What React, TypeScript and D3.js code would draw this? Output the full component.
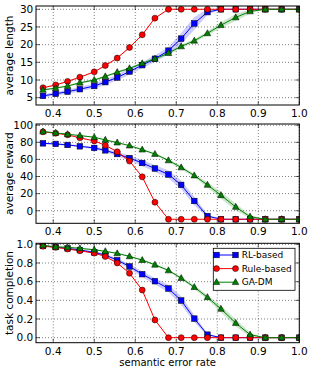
import React from "react";
import * as d3 from "d3";

const errorRate = [0.375, 0.406, 0.435, 0.465, 0.5, 0.527, 0.556, 0.586, 0.617, 0.648, 0.681, 0.712, 0.744, 0.776, 0.809, 0.845, 0.88, 0.917, 0.957, 1.0];
const xTicks = [0.4, 0.5, 0.6, 0.7, 0.8, 0.9, 1.0];

const seriesNames = ["RL-based", "Rule-based", "GA-DM"];

const lenRL = [5.5, 6.1, 6.7, 7.4, 8.3, 9.4, 10.7, 12.4, 14.2, 16.0, 18.3, 21.7, 26.0, 29.2, 30, 30, 30, 30, 30, 30];
const lenRule = [7.8, 8.6, 9.6, 10.8, 12.3, 14.1, 16.2, 19.2, 22.8, 27.5, 30, 30, 30, 30, 30, 30, 30, 30, 30, 30];
const lenGA = [7.2, 7.7, 8.3, 9.2, 10.0, 11.0, 12.2, 13.3, 14.7, 16.0, 17.6, 19.5, 21.1, 23.2, 25.5, 27.7, 29.4, 30, 30, 30];
const lenRLErr = [0.5, 0.5, 0.6, 0.6, 0.7, 0.8, 0.8, 0.9, 0.9, 0.9, 1.0, 1.6, 1.8, 0.8, 0, 0, 0, 0, 0, 0];
const lenRuleErr = [0.2, 0.2, 0.2, 0.2, 0.2, 0.2, 0.2, 0.2, 0.2, 0.2, 0, 0, 0, 0, 0, 0, 0, 0, 0, 0];
const lenGAErr = [0.2, 0.2, 0.2, 0.3, 0.3, 0.3, 0.3, 0.3, 0.3, 0.4, 0.4, 0.5, 0.5, 0.6, 0.8, 1.0, 0.6, 0, 0, 0];

const rewRL = [78.8, 78.1, 76.9, 75.3, 73.4, 70.6, 66.3, 61.6, 55.8, 49.4, 42.4, 30.2, 11.4, -6.2, -10, -10, -10, -10, -10, -10];
const rewRule = [92.2, 90.6, 88.7, 85.2, 81.6, 76.5, 69.0, 58.1, 39.6, 9.9, -10, -10, -10, -10, -10, -10, -10, -10, -10, -10];
const rewGA = [92.6, 91.0, 89.4, 87.9, 85.9, 82.8, 79.6, 76.1, 71.4, 66.3, 58.8, 50.6, 41.2, 30.2, 18.1, 4.4, -7.0, -10, -10, -10];
const rewRLErr = [1, 1, 1, 1.2, 1.5, 2, 2.5, 3, 3.5, 4, 4.5, 5, 5, 2, 0, 0, 0, 0, 0, 0];
const rewRuleErr = [0.5, 0.5, 0.5, 0.5, 0.5, 0.5, 0.5, 0.5, 0.5, 0.5, 0, 0, 0, 0, 0, 0, 0, 0, 0, 0];
const rewGAErr = [0.5, 0.5, 0.5, 0.5, 0.6, 0.6, 0.7, 0.8, 1, 1, 1.5, 2, 2, 3, 4, 4, 2, 0, 0, 0];

const compRL = [0.982, 0.971, 0.957, 0.939, 0.914, 0.885, 0.83, 0.763, 0.68, 0.605, 0.527, 0.398, 0.204, 0.032, 0, 0, 0, 0, 0, 0];
const compRule = [0.98, 0.968, 0.95, 0.93, 0.906, 0.87, 0.8, 0.69, 0.51, 0.19, 0, 0, 0, 0, 0, 0, 0, 0, 0, 0];
const compGA = [0.989, 0.974, 0.968, 0.957, 0.942, 0.925, 0.903, 0.871, 0.831, 0.781, 0.72, 0.638, 0.541, 0.433, 0.308, 0.157, 0.032, 0, 0, 0];
const compRLErr = [0.005, 0.005, 0.008, 0.01, 0.012, 0.015, 0.02, 0.025, 0.03, 0.035, 0.04, 0.045, 0.04, 0.015, 0, 0, 0, 0, 0, 0];
const compRuleErr = [0.005, 0.005, 0.005, 0.005, 0.005, 0.005, 0.005, 0.005, 0.005, 0.005, 0, 0, 0, 0, 0, 0, 0, 0, 0, 0];
const compGAErr = [0.004, 0.004, 0.004, 0.005, 0.005, 0.006, 0.006, 0.008, 0.01, 0.01, 0.012, 0.015, 0.02, 0.025, 0.035, 0.04, 0.02, 0, 0, 0];

const lenTicks = [5, 10, 15, 20, 25, 30];
const rewTicks = [0, 20, 40, 60, 80, 100];
const compTicks = [0, 0.2, 0.4, 0.6, 0.8, 1.0];

const colors = ["#0000ff", "#ff0000", "#008000"];
const markers = ["square", "circle", "triangle"];

const FONT = "DejaVu Sans, sans-serif";
const LEFT = 36;
const RIGHT = 299.3;

const x = d3.scaleLinear().domain([0.358, 1.0]).range([LEFT, RIGHT]);

function Marker({ type, cx, cy, color }: { type: string; cx: number; cy: number; color: string }) {
  if (type === "square") {
    return <rect x={cx - 2.8} y={cy - 2.8} width={5.6} height={5.6} fill={color} stroke="#000" strokeWidth={0.5} />;
  }
  if (type === "circle") {
    return <circle cx={cx} cy={cy} r={3} fill={color} stroke="#000" strokeWidth={0.5} />;
  }
  const p = d3.path();
  p.moveTo(cx, cy - 3.6);
  p.lineTo(cx + 3.3, cy + 2.4);
  p.lineTo(cx - 3.3, cy + 2.4);
  p.closePath();
  return <path d={p.toString()} fill={color} stroke="#000" strokeWidth={0.5} />;
}

type PanelProps = {
  id: string;
  top: number;
  bottom: number;
  domain: [number, number];
  ticks: number[];
  fmt: (v: number) => string;
  label: string;
  values: number[][];
  errs: number[][];
  legend?: boolean;
};

function Panel({ id, top, bottom, domain, ticks, fmt, label, values, errs, legend }: PanelProps) {
  const y = d3.scaleLinear().domain(domain).range([bottom, top]);
  const line = d3
    .line<number>()
    .x((_, i) => x(errorRate[i]))
    .y((v) => y(v));
  const areas = values.map((vals, s) =>
    d3
      .area<number>()
      .x((_, i) => x(errorRate[i]))
      .y0((v, i) => y(v - errs[s][i]))
      .y1((v, i) => y(v + errs[s][i]))(vals)
  );
  const midY = (top + bottom) / 2;
  return (
    <g>
      <defs>
        <clipPath id={id}>
          <rect x={LEFT} y={top} width={RIGHT - LEFT} height={bottom - top} />
        </clipPath>
      </defs>
      <rect x={LEFT} y={top} width={RIGHT - LEFT} height={bottom - top} fill="#fff" />
      {xTicks.map((t) => (
        <line key={"gx" + t} x1={x(t)} x2={x(t)} y1={top} y2={bottom} stroke="#000" strokeWidth={0.5} strokeDasharray="1,2" />
      ))}
      {ticks.map((t) => (
        <line key={"gy" + t} x1={LEFT} x2={RIGHT} y1={y(t)} y2={y(t)} stroke="#000" strokeWidth={0.5} strokeDasharray="1,2" />
      ))}
      <g clipPath={`url(#${id})`}>
        {areas.map((d, s) => (
          <path key={"a" + s} d={d || ""} fill={colors[s]} fillOpacity={0.2} stroke="none" />
        ))}
        {values.map((vals, s) => (
          <g key={"s" + s}>
            <path d={line(vals) || ""} fill="none" stroke={colors[s]} strokeWidth={1} />
            {vals.map((v, i) => (
              <Marker key={i} type={markers[s]} cx={x(errorRate[i])} cy={y(v)} color={colors[s]} />
            ))}
          </g>
        ))}
      </g>
      {xTicks.map((t) => (
        <g key={"tx" + t}>
          <line x1={x(t)} x2={x(t)} y1={bottom} y2={bottom - 4} stroke="#000" strokeWidth={0.6} />
          <line x1={x(t)} x2={x(t)} y1={top} y2={top + 4} stroke="#000" strokeWidth={0.6} />
          <text x={x(t)} y={bottom + 12} textAnchor="middle" fontFamily={FONT} fontSize={10.5} fill="#000">
            {t.toFixed(1)}
          </text>
        </g>
      ))}
      {ticks.map((t) => (
        <g key={"ty" + t}>
          <line x1={LEFT} x2={LEFT + 4} y1={y(t)} y2={y(t)} stroke="#000" strokeWidth={0.6} />
          <line x1={RIGHT} x2={RIGHT - 4} y1={y(t)} y2={y(t)} stroke="#000" strokeWidth={0.6} />
          <text x={33.3} y={y(t)} dy="0.36em" textAnchor="end" fontFamily={FONT} fontSize={10.5} fill="#000">
            {fmt(t)}
          </text>
        </g>
      ))}
      <rect x={LEFT} y={top} width={RIGHT - LEFT} height={bottom - top} fill="none" stroke="#000" strokeWidth={1} />
      <text
        transform={`translate(12.6,${midY}) rotate(-90)`}
        textAnchor="middle"
        fontFamily={FONT}
        fontSize={10.5}
        fill="#000"
      >
        {label}
      </text>
      {legend && (
        <g>
          <rect x={213.3} y={248.3} width={81.7} height={42} fill="#fff" stroke="#000" strokeWidth={0.8} />
          {seriesNames.map((n, s) => {
            const ly = 255 + s * 13.6;
            return (
              <g key={n}>
                <line x1={216.5} x2={235.5} y1={ly} y2={ly} stroke={colors[s]} strokeWidth={1} />
                <Marker type={markers[s]} cx={216.5} cy={ly} color={colors[s]} />
                <Marker type={markers[s]} cx={235.5} cy={ly} color={colors[s]} />
                <text x={241.7} y={ly} dy="0.36em" fontFamily={FONT} fontSize={9} fill="#000">
                  {n}
                </text>
              </g>
            );
          })}
        </g>
      )}
    </g>
  );
}

export default function App() {
  return (
    <svg
      width={312}
      height={370}
      viewBox="0 0 312 370"
      style={{ position: "absolute", left: 0, top: 0, background: "#fff" }}
    >
      <rect x={0} y={0} width={312} height={370} fill="#fff" />
      <Panel
        id="c1"
        top={6}
        bottom={105}
        domain={[2.93, 30.93]}
        ticks={lenTicks}
        fmt={(v) => String(v)}
        label="average length"
        values={[lenRL, lenRule, lenGA]}
        errs={[lenRLErr, lenRuleErr, lenGAErr]}
      />
      <Panel
        id="c2"
        top={124}
        bottom={223.3}
        domain={[-14.7, 101.4]}
        ticks={rewTicks}
        fmt={(v) => String(v)}
        label="average reward"
        values={[rewRL, rewRule, rewGA]}
        errs={[rewRLErr, rewRuleErr, rewGAErr]}
      />
      <Panel
        id="c3"
        top={243.3}
        bottom={342.7}
        domain={[-0.054, 1.011]}
        ticks={compTicks}
        fmt={(v) => v.toFixed(1)}
        label="task completion"
        values={[compRL, compRule, compGA]}
        errs={[compRLErr, compRuleErr, compGAErr]}
        legend
      />
      <text x={(LEFT + RIGHT) / 2} y={366} textAnchor="middle" fontFamily={FONT} fontSize={10} fill="#000">
        semantic error rate
      </text>
    </svg>
  );
}
